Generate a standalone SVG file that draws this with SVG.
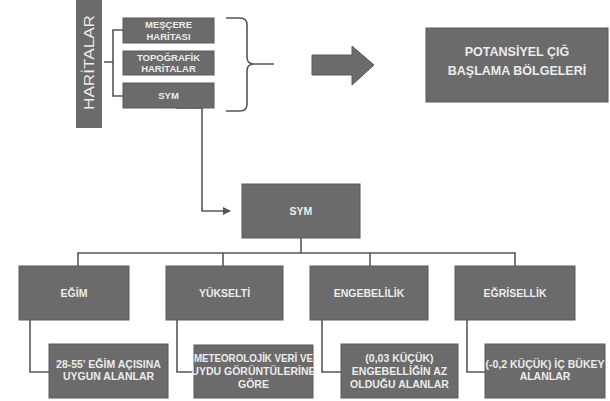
<svg xmlns="http://www.w3.org/2000/svg" width="610" height="401" viewBox="0 0 610 401">
<defs>
<style>
.box{fill:#6b6b6b;stroke:#5a5a5a;stroke-width:1}
.t{font-family:"Liberation Sans",Arial,sans-serif;font-weight:bold;fill:#ececec;text-anchor:middle}
.s{font-size:9.5px}
.m{font-size:10.5px}
.l{font-size:12.5px}
.c{fill:none;stroke:#555;stroke-width:1.6}
</style>
<marker id="ah" markerWidth="8" markerHeight="8" refX="7" refY="4" orient="auto" markerUnits="userSpaceOnUse">
<path d="M0,0 L8,4 L0,8 Z" fill="#555"/>
</marker>
</defs>
<rect width="610" height="401" fill="#fff"/>

<g id="connectors">
<path class="c" d="M104,62 H113 M123,30 H113 V96 H123"/>
<path class="c" d="M226,18 H240 Q247,18 247,25 V57 Q247,64 254,64 H274 M254,64 Q247,64 247,71 V104 Q247,111 240,111 H226"/>
<path class="c" d="M176,108 H202 V211 H230" marker-end="url(#ah)"/>
<path class="c" d="M301,238 V253 M78,266 V253 H515 V266 M223,253 V266 M370,253 V266"/>
<path class="c" d="M30,320 V372 H49"/>
<path class="c" d="M177,320 V372 H194"/>
<path class="c" d="M322,320 V372 H341"/>
<path class="c" d="M467,320 V372 H485"/>
</g>

<g id="haritalar">
<rect x="76" y="0" width="26" height="128" fill="#6b6b6b"/>
<text class="t" transform="translate(94,62.5) rotate(-90)" textLength="95" lengthAdjust="spacingAndGlyphs" style="font-weight:normal;font-size:15.5px">HARİTALAR</text>
</g>

<g id="mescere">
<rect class="box" x="123" y="18" width="91" height="25"/>
<text class="t s" x="168.5" y="28">MEŞÇERE</text>
<text class="t s" x="168.5" y="39.5">HARİTASI</text>
</g>
<g id="topografik">
<rect class="box" x="123" y="51" width="91" height="24"/>
<text class="t s" x="168.5" y="60.5">TOPOĞRAFİK</text>
<text class="t s" x="168.5" y="72">HARİTALAR</text>
</g>
<g id="sym-small">
<rect class="box" x="123" y="83" width="91" height="25"/>
<text class="t s" x="168.5" y="98.5">SYM</text>
</g>

<g id="big-arrow">
<path d="M312,55 H352 V46 L374,65 L352,85 V75 H312 Z" fill="#6b6b6b" stroke="#5a5a5a"/>
</g>

<g id="potansiyel">
<rect class="box" x="426" y="28" width="182" height="74"/>
<text class="t l" x="517" y="56">POTANSİYEL ÇIĞ</text>
<text class="t l" x="517" y="75">BAŞLAMA BÖLGELERİ</text>
</g>

<g id="sym">
<rect class="box" x="242" y="184" width="118" height="54"/>
<text class="t m" x="301" y="214.5">SYM</text>
</g>

<g id="egim">
<rect class="box" x="19" y="266" width="110" height="54"/>
<text class="t m" x="74" y="296.5">EĞİM</text>
</g>
<g id="yukselti">
<rect class="box" x="166" y="266" width="117" height="54"/>
<text class="t m" x="224.5" y="296.5">YÜKSELTİ</text>
</g>
<g id="engebelilik">
<rect class="box" x="310" y="266" width="118" height="54"/>
<text class="t m" x="369" y="296.5">ENGEBELİLİK</text>
</g>
<g id="egrisellik">
<rect class="box" x="455" y="266" width="120" height="54"/>
<text class="t m" x="515" y="296.5">EĞRİSELLİK</text>
</g>

<g id="d-egim">
<rect class="box" x="49" y="344" width="119" height="54"/>
<text class="t m" x="108.5" y="368">28-55' EĞİM AÇISINA</text>
<text class="t m" x="108.5" y="380">UYGUN ALANLAR</text>
</g>
<g id="d-yukselti">
<rect class="box" x="194" y="345" width="119" height="53"/>
<text class="t m" x="253.5" y="362" textLength="119" lengthAdjust="spacingAndGlyphs">METEOROLOJİK VERİ VE</text>
<text class="t m" x="253.5" y="375">UYDU GÖRÜNTÜLERİNE</text>
<text class="t m" x="253.5" y="388">GÖRE</text>
</g>
<g id="d-engebelilik">
<rect class="box" x="341" y="344" width="117" height="54"/>
<text class="t m" x="399.5" y="362">(0,03 KÜÇÜK)</text>
<text class="t m" x="399.5" y="375">ENGEBELLİĞİN AZ</text>
<text class="t m" x="399.5" y="388">OLDUĞU ALANLAR</text>
</g>
<g id="d-egrisellik">
<rect class="box" x="485" y="344" width="120" height="54"/>
<text class="t m" x="545" y="368">(-0,2 KÜÇÜK) İÇ BÜKEY</text>
<text class="t m" x="545" y="380">ALANLAR</text>
</g>
</svg>
